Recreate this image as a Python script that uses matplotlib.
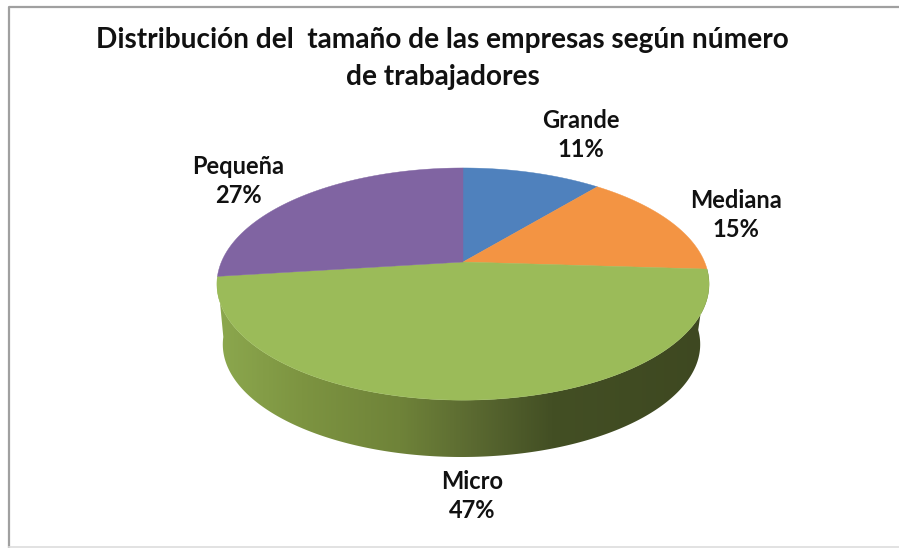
# 3D looking pie chart of company size, drawn by hand with a perspective mapping

import numpy as np
import matplotlib
matplotlib.use("Agg")
import matplotlib.pyplot as plt
from matplotlib.colors import LinearSegmentedColormap
from matplotlib.patches import Polygon

# Data
categories = ["Grande", "Mediana", "Micro", "Pequeña"]
shares = [11, 15, 47, 27]
colors = ["#4F81BD", "#F39443", "#9BBB59", "#8064A2"]
title_lines = ["Distribución del  tamaño de las empresas según número", "de trabajadores"]

plt.rcParams["font.family"] = ["Lato", "DejaVu Sans"]

# Pie geometry in image pixels
cx, cy = 463, 262
radius = 241.6
squash = 111.9
persp = 0.19
depth = 61
shrink = 0.97


def rim(deg, drop=0, scale=1.0, shift=0):
    # deg runs clockwise from the top of the pie
    a = np.radians(deg)
    den = 1 + persp * np.cos(a)
    x = cx + shift + scale * radius * np.sin(a) / den
    y = cy + drop - scale * squash * np.cos(a) / den
    return x, y


fig = plt.figure(figsize=(8.99, 5.48), dpi=100)
ax = fig.add_axes([0, 0, 1, 1])

# Side wall of the front slice, shaded from left to right
edges = np.cumsum([0] + shares) * 3.6
front = np.linspace(edges[2], edges[3], 300)
x1, y1 = rim(front)
x2, y2 = rim(front[::-1], depth, shrink, -1.5)
side = Polygon(np.column_stack([np.r_[x1, x2], np.r_[y1, y2]]), closed=True,
               facecolor="none", edgecolor="none", transform=ax.transData)
ax.add_patch(side)
shade = LinearSegmentedColormap.from_list(
    "side",
    [(0, "#8CA84E"), (0.17, "#7D9441"), (0.37, "#6F8339"), (0.515, "#5B6A31"), (0.68, "#434F24"), (1, "#3E4821")],
)
img = ax.imshow(np.linspace(0, 1, 512).reshape(1, -1), cmap=shade, aspect="auto",
                extent=[x1.min(), x1.max(), 470, 260], zorder=1)
img.set_clip_path(side)

# Top face
for i, name in enumerate(categories):
    deg = np.linspace(edges[i], edges[i + 1], 200)
    x, y = rim(deg)
    ax.fill(np.r_[cx, x], np.r_[cy, y], color=colors[i], linewidth=0.3, zorder=2)

# Labels
label_x = [581, 736, 472, 238]
label_y = [135, 215, 496, 181]
for name, share, lx, ly in zip(categories, shares, label_x, label_y):
    ax.text(lx, ly, f"{name}\n{share}%", ha="center", va="center", fontsize=17,
            fontweight="bold", color="#111111", linespacing=1.3, zorder=3)

ax.text(442, 40, title_lines[0], ha="center", va="center", fontsize=20.2, fontweight="bold", color="#111111")
ax.text(443, 77, title_lines[1], ha="center", va="center", fontsize=20.2, fontweight="bold", color="#111111")

# Chart frame, no line on the right
ax.plot([899, 9, 9], [7, 7, 547], color="#A0A0A0", linewidth=1.6)
ax.plot([9, 899], [547, 547], color="#DDDDDD", linewidth=1.2)

ax.set_xlim(0, 899)
ax.set_ylim(548, 0)
ax.axis("off")
fig.savefig("out.png", dpi=100)
